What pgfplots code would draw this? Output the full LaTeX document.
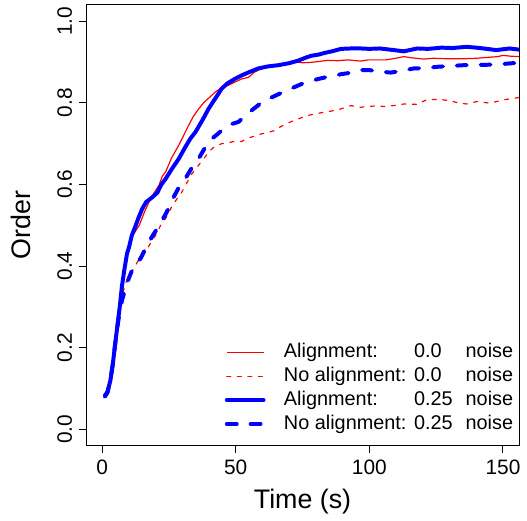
\documentclass[border=0pt]{standalone}
\usepackage{fontspec}
\setmainfont{Liberation Sans}
\usepackage{pgfplots}
\pgfplotsset{compat=1.18}
\definecolor{rred}{RGB}{255,0,0}
\definecolor{rblue}{RGB}{0,0,255}
\begin{document}
\begin{tikzpicture}
\begin{axis}[name=ax, scale only axis, width=218pt, height=222pt,
  xmin=-6, xmax=156, ymin=-0.04, ymax=1.04,
  xtick={0,50,100,150}, ytick={0,0.2,0.4,0.6,0.8,1.0},
  yticklabels={0.0,0.2,0.4,0.6,0.8,1.0},
  tick align=outside, major tick length=3.5pt,
  xtick pos=bottom, ytick pos=left,
  axis line style={line width=0.5pt},
  every tick/.style={black, line width=0.5pt},
  tick label style={font=\fontsize{10.5}{12}\selectfont},
  /pgf/number format/assume math mode=true,
  yticklabel style={rotate=90, anchor=south},
  xticklabel style={anchor=north},
  xlabel={Time (s)}, ylabel={Order},
  every axis x label/.style={at={([yshift=-31.7pt]rel axis cs:0.5,0)}, anchor=base, font=\fontsize{13.5}{16}\selectfont},
  every axis y label/.style={at={([xshift=-27.85pt]rel axis cs:0,0.5)}, rotate=90, anchor=base, font=\fontsize{13.5}{16}\selectfont},
  legend style={at={(rel axis cs:0.3195,0.233)}, anchor=north west, draw=none, fill=none, inner sep=0pt, row sep=2.8pt,
    font=\fontsize{10}{12}\selectfont,
    nodes={inner sep=0pt, text height=7.2pt, text depth=2pt},
    /tikz/every odd column/.append style={column sep=9.3pt}},
  legend cell align=left,
  legend image code/.code={\draw[#1] (0pt,0pt) -- (18.5pt,0pt);},
]
\addplot[rred, line width=0.6pt] coordinates {
(1,0.083) (2,0.092) (3.1,0.12) (4,0.16) (4.9,0.21) (5.8,0.26) (6.6,0.30) (7.4,0.345) (8.3,0.385) (9.3,0.425) (10.1,0.45) (11.5,0.475) (13.9,0.50) (16,0.535) (18.2,0.566) (20,0.585) (21.3,0.598) (22.5,0.62) (23.8,0.631) (26,0.665) (28.7,0.696) (30.5,0.72) (32.4,0.745) (34,0.765) (36.1,0.785) (38,0.80) (40,0.812) (42.3,0.826) (44.5,0.836) (47.3,0.843) (49.8,0.851) (52,0.858) (54.7,0.862) (57,0.875) (59.7,0.884) (62,0.887) (65.9,0.89) (69,0.895) (72.1,0.900) (75,0.898) (78.2,0.899) (81,0.901) (84.4,0.904) (88,0.903) (92,0.905) (96.8,0.902) (99.3,0.905) (103,0.905) (106,0.905) (109,0.908) (112.9,0.913) (116,0.910) (120.4,0.907) (124,0.909) (128,0.908) (132,0.908) (136.4,0.908) (140,0.909) (144,0.911) (148,0.913) (150,0.916) (153,0.914) (156,0.913)
};
\addlegendentry{\makebox[65.5pt][l]{Alignment:}\makebox[26pt][l]{0.0}noise}
\addplot[rred, line width=0.6pt, line cap=round, dash pattern=on 2pt off 3.3pt] coordinates {
(1,0.083) (2,0.092) (3.1,0.12) (4,0.16) (4.9,0.21) (5.8,0.255) (6.6,0.29) (7.4,0.32) (8.5,0.355) (10.1,0.375) (12,0.395) (13.6,0.415) (16.3,0.436) (18.5,0.46) (20,0.475) (22.3,0.505) (23.8,0.517) (26,0.545) (27.5,0.56) (29.9,0.582) (31.2,0.598) (33.5,0.625) (36.1,0.647) (37.4,0.657) (39.9,0.68) (42,0.692) (44.8,0.70) (47.3,0.702) (49.8,0.706) (52.2,0.705) (54,0.712) (55.9,0.716) (59.7,0.724) (62,0.727) (64.6,0.732) (67,0.742) (70.8,0.754) (74,0.762) (77,0.769) (80,0.773) (83.2,0.777) (86,0.78) (89.4,0.785) (93.1,0.793) (96.8,0.789) (99.3,0.791) (102,0.792) (105.5,0.791) (109,0.793) (112.9,0.797) (117.9,0.796) (121.6,0.808) (126.5,0.808) (130.2,0.805) (133,0.800) (136.4,0.797) (140.2,0.803) (145.1,0.799) (150.1,0.807) (153,0.810) (156.1,0.813)
};
\addlegendentry{\makebox[65.5pt][l]{No alignment:}\makebox[26pt][l]{0.0}noise}
\addplot[rblue, line width=2pt, line cap=round, line join=round] coordinates {
(1,0.082) (2,0.092) (3.1,0.12) (4,0.16) (4.9,0.21) (5.8,0.258) (6.6,0.30) (7.4,0.35) (8.3,0.39) (9.3,0.43) (10.1,0.447) (11.1,0.475) (12.6,0.50) (13.6,0.518) (15,0.54) (16.5,0.557) (18.5,0.567) (20.7,0.580) (22,0.598) (23.8,0.614) (26,0.637) (28.7,0.663) (31,0.69) (33,0.712) (34.9,0.728) (37.5,0.757) (39.9,0.786) (42.5,0.812) (44.8,0.835) (47,0.848) (49.8,0.859) (52.2,0.867) (55,0.875) (58.4,0.884) (62,0.889) (65.9,0.892) (70,0.897) (73.3,0.903) (76,0.910) (78.2,0.915) (81,0.918) (83.2,0.922) (86,0.926) (89.4,0.932) (93,0.933) (96.8,0.933) (100,0.932) (104,0.933) (109.2,0.929) (112.9,0.926) (117.9,0.933) (122,0.932) (127,0.935) (131,0.934) (136.4,0.937) (140,0.935) (144,0.932) (147.5,0.929) (150,0.931) (152.5,0.933) (156.2,0.930)
};
\addlegendentry{\makebox[65.5pt][l]{Alignment:}\makebox[26pt][l]{0.25}noise}
\addplot[rblue, line width=2pt, line cap=round, line join=round, dash pattern=on 5pt off 7pt] coordinates {
(1,0.08) (2,0.09) (3.1,0.12) (4,0.16) (4.9,0.21) (5.8,0.255) (6.6,0.29) (7.4,0.315) (8.7,0.345) (10,0.37) (11.4,0.393) (12.4,0.40) (14.5,0.42) (16.5,0.446) (18.5,0.47) (21.5,0.501) (24,0.53) (26.2,0.562) (28.5,0.59) (31.2,0.615) (33.5,0.64) (36.1,0.663) (38.5,0.69) (41.1,0.712) (43.5,0.725) (45.5,0.737) (48.5,0.748) (51,0.753) (53.5,0.767) (55.9,0.781) (59,0.797) (63.4,0.813) (67,0.824) (70.8,0.835) (75,0.847) (78,0.853) (80.7,0.858) (84,0.863) (87,0.866) (89.4,0.870) (92.5,0.873) (96.8,0.880) (100,0.880) (104,0.876) (108,0.874) (112,0.878) (116.6,0.884) (121,0.885) (125.3,0.888) (130,0.890) (135.2,0.892) (139.5,0.893) (143.9,0.893) (148,0.894) (153.8,0.897) (156.2,0.897)
};
\addlegendentry{\makebox[65.5pt][l]{No alignment:}\makebox[26pt][l]{0.25}noise}
\end{axis}
\path (ax.south west) ++(-43.35pt,-35.5pt);
\path (ax.north east) ++(2pt,1pt);
\end{tikzpicture}
\end{document}
